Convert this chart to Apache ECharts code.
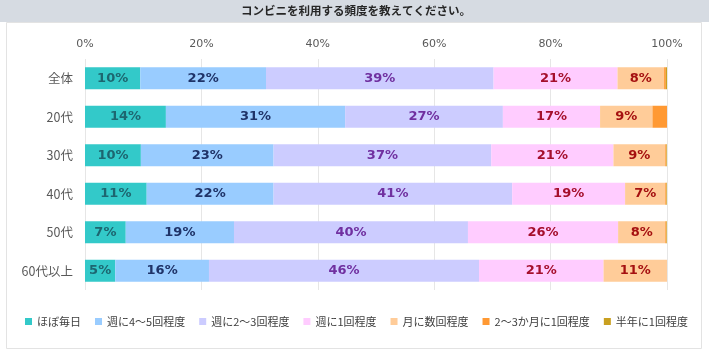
<!DOCTYPE html>
<html><head><meta charset="utf-8">
<script src="https://cdn.jsdelivr.net/npm/echarts@6/dist/echarts.min.js"></script>
<style>html,body{margin:0;padding:0;background:#fff}#c{width:709px;height:357px}</style>
</head><body><div id="c"></div>
<script>
var title = 'コンビニを利用する頻度を教えてください。';
var categories = ['全体', '20代', '30代', '40代', '50代', '60代以上'];
var seriesNames = ['ほぼ毎日', '週に4～5回程度', '週に2～3回程度', '週に1回程度', '月に数回程度', '2～3か月に1回程度', '半年に1回程度'];
var almostDaily   = [9.5, 13.9, 9.6, 10.6, 7.0, 5.2];
var weekly4to5    = [21.6, 30.8, 22.8, 21.8, 18.6, 16.1];
var weekly2to3    = [39.1, 27.1, 37.4, 41.0, 40.2, 46.4];
var weekly1       = [21.3, 16.7, 21.0, 19.4, 25.8, 21.4];
var monthlyFew    = [8.0, 9.0, 8.9, 6.9, 8.1, 10.9];
var every2to3Mon  = [0.3, 2.5, 0.2, 0.2, 0.2, 0.0];
var halfYearly    = [0.2, 0.0, 0.1, 0.1, 0.1, 0.0];
var xTicks = [0, 20, 40, 60, 80, 100];

var values = [almostDaily, weekly4to5, weekly2to3, weekly1, monthlyFew, every2to3Mon, halfYearly];
var colors = ['#33c9c9', '#99ccff', '#ccccff', '#ffccff', '#ffcc99', '#ff9933', '#c9a020'];
var labelColors = ['#1d6670', '#1f3368', '#7030a0', '#a50f2d', '#a51010', null, null];

var chart = echarts.init(document.getElementById('c'));
var series = values.map(function (v, i) {
  return {
    name: seriesNames[i], type: 'bar', stack: 'total', barWidth: 22,
    data: v,
    itemStyle: { color: colors[i] },
    label: labelColors[i] ? {
      show: true, position: 'inside',
      fontFamily: 'DejaVu Sans', fontWeight: 'bold', fontSize: 13,
      color: labelColors[i],
      formatter: function (p) { return Math.round(p.value) + '%'; }
    } : { show: false },
    emphasis: { disabled: true }
  };
});

chart.setOption({
  animation: false,
  backgroundColor: '#ffffff',
  graphic: [
    { type: 'rect', shape: { x: 0, y: 0, width: 709, height: 22 }, style: { fill: '#d6dbe2' }, z: -10 },
    { type: 'rect', shape: { x: 6.5, y: 22.5, width: 695, height: 326 }, style: { fill: '#ffffff', stroke: '#e3e3e3', lineWidth: 1 }, z: -10 },
    { type: 'text', x: 356, y: 11,
      style: { text: title, font: 'bold 11.5px "Noto Sans CJK JP"', fill: '#262626', textAlign: 'center', textVerticalAlign: 'middle' }, z: 10 }
  ],
  grid: { left: 85, right: 42, top: 59, height: 231 },
  xAxis: {
    type: 'value', position: 'top', min: xTicks[0], max: xTicks[xTicks.length - 1], interval: 20,
    axisLine: { show: false }, axisTick: { show: false },
    splitLine: { show: true, lineStyle: { color: '#e6e6e6', width: 1 } },
    axisLabel: { margin: 9, color: '#595959', fontFamily: 'DejaVu Sans', fontSize: 11, formatter: '{value}%' }
  },
  yAxis: {
    type: 'category', data: categories, inverse: true,
    axisLine: { show: false }, axisTick: { show: false },
    axisLabel: { margin: 12, color: '#595959', fontFamily: '"Noto Sans CJK JP"', fontSize: 12.5 }
  },
  legend: {
    left: 20, top: 311, width: 690, itemWidth: 7, itemHeight: 7, itemGap: 14, icon: 'rect',
    textStyle: { color: '#404040', fontFamily: '"Noto Sans CJK JP"', fontSize: 11 },
    data: seriesNames
  },
  series: series
});
</script></body></html>
